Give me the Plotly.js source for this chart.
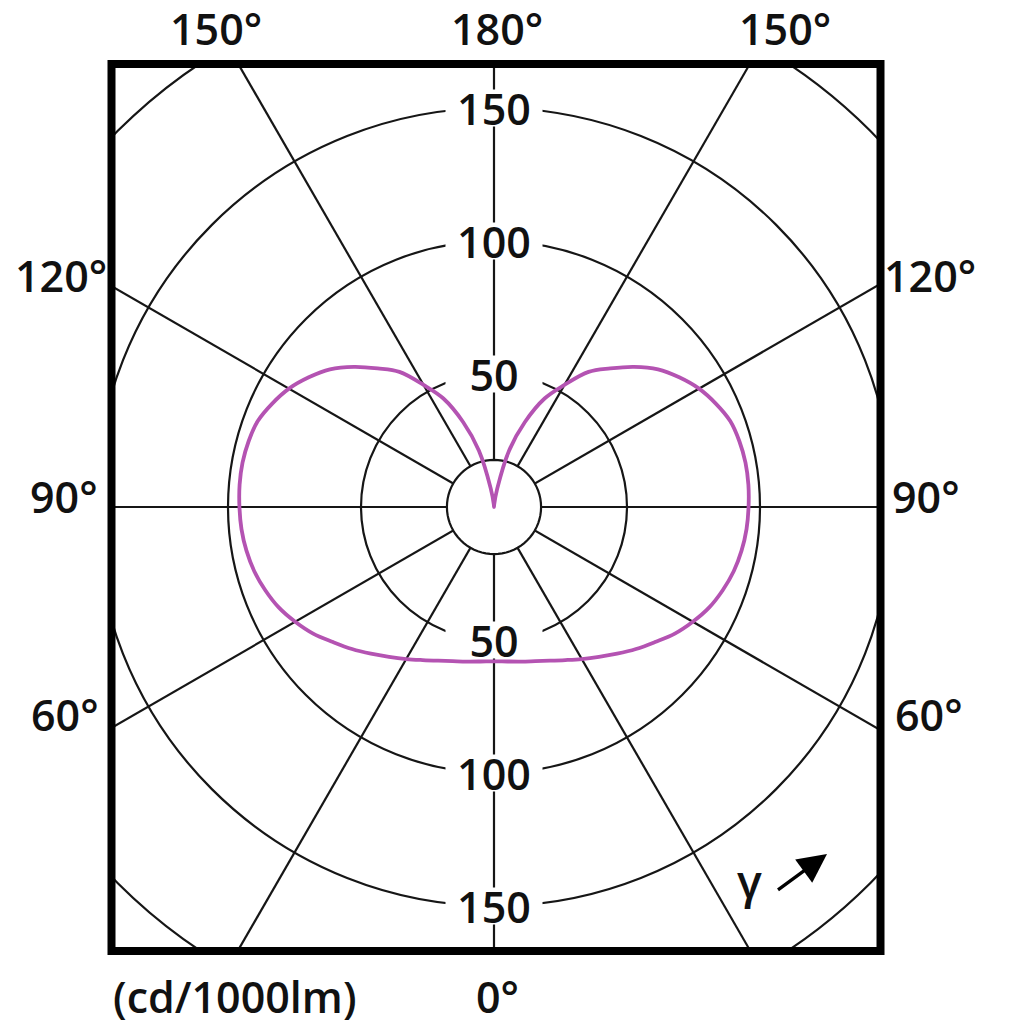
<!DOCTYPE html>
<html>
<head>
<meta charset="utf-8">
<script src="https://cdn.plot.ly/plotly-3.0.1.min.js"></script>
<style>
html,body{margin:0;padding:0;overflow:hidden;width:1024px;height:1024px;background:#ffffff;}
#chart{position:absolute;left:-206px;top:-193px;width:1400px;height:1400px;}
</style>
</head>
<body>
<div id="chart"></div>
<script>
// ---------------- data ----------------
// gamma angle (deg) measured from nadir, and luminous intensity (cd/1000lm)
const gammaDeg = [0,5,10,15,20,25,30,35,40,45,50,55,60,65,70,75,80,85,90,
                  95,100,105,110,115,120,125,130,135,140,145,150,155,160,165,170,175,180];
const intensity = [58,58.3,59,60,61.5,63.5,66,68.8,72,75.5,79,83,86.3,89.3,91.5,93.3,94.5,95.3,95.7,
                   96,96,95.5,94.5,92,89,85,80.5,74.5,68,62,53,45,34,22,7,1,0];
const radialLabelValues = [50,100,150];
const gridCircleValues = [50,100,150,200];
const angleStep = 30;
const topLabels = ['150°','180°','150°'];
const sideLabels = ['120°','90°','60°'];
const bottomLabel = '0°';
const unitLabel = '(cd/1000lm)';
const gammaSymbol = 'γ';

// ---------------- layout constants ----------------
const W = 1400, H = 1400, OFFX = 206, OFFY = 193;   // div offset in the window
const PX_PER_UNIT = 2.66;
const RMAX = (W / 2) / PX_PER_UNIT;
const INNER_R = 17.7;
const px = X => (X + OFFX) / W;
const py = Y => 1 - (Y + OFFY) / H;
const FL = 111.5, FR = 880.5, FT = 64, FB = 951;     // frame centre line (window px)

const lineCol = '#161616';
const curveCol = '#b453b2';
const font = {family: 'Open Sans, Noto Sans, sans-serif', size: 43, color: '#111', weight: 600};

// curve: mirror the C-plane so it is symmetric about the vertical axis
const thetaCurve = gammaDeg.slice().reverse().map(g => -g).concat(gammaDeg.slice(1));
const rCurve = intensity.slice().reverse().concat(intensity.slice(1));

// inner small circle (drawn through the polar scale)
const circTheta = [], circR = [];
for (let a = 0; a <= 360; a += 5) { circTheta.push(a); circR.push(INNER_R); }

const traces = [
  {type: 'scatterpolar', r: circR, theta: circTheta, mode: 'lines', fill: 'toself',
   fillcolor: '#ffffff', line: {color: lineCol, width: 2.2}, hoverinfo: 'skip'},
  {type: 'scatterpolar', r: rCurve, theta: thetaCurve, mode: 'lines',
   line: {color: curveCol, width: 3.8, shape: 'spline', smoothing: 1}, hoverinfo: 'skip'}
];

const shapes = [
  {type:'rect', xref:'paper', yref:'paper', x0:0, x1:px(FL), y0:0, y1:1, fillcolor:'#fff', line:{width:0}, layer:'above'},
  {type:'rect', xref:'paper', yref:'paper', x0:px(FR), x1:1, y0:0, y1:1, fillcolor:'#fff', line:{width:0}, layer:'above'},
  {type:'rect', xref:'paper', yref:'paper', x0:0, x1:1, y0:py(FT), y1:1, fillcolor:'#fff', line:{width:0}, layer:'above'},
  {type:'rect', xref:'paper', yref:'paper', x0:0, x1:1, y0:0, y1:py(FB), fillcolor:'#fff', line:{width:0}, layer:'above'},
  {type:'rect', xref:'paper', yref:'paper', x0:px(FL), x1:px(FR), y0:py(FB), y1:py(FT), line:{color:'#000', width:8}, layer:'above'}
];

const ann = [];
function lab(text, X, Y, extra) {
  ann.push(Object.assign({xref:'paper', yref:'paper', x:px(X), y:py(Y), text:text, showarrow:false,
    xanchor:'center', yanchor:'middle', font:font}, extra || {}));
}
// outer angle labels
lab(topLabels[0], 216, 28); lab(topLabels[1], 497, 28); lab(topLabels[2], 785, 28);
lab(sideLabels[0], 61, 276); lab(sideLabels[1], 64, 496); lab(sideLabels[2], 65, 714);
lab(sideLabels[0], 930, 276); lab(sideLabels[1], 926, 496); lab(sideLabels[2], 929, 714);
lab(bottomLabel, 497, 996);
lab(unitLabel, 235, 996);
lab(gammaSymbol, 749, 880, {font: Object.assign({}, font, {size: 46})});
// gamma direction arrow
ann.push({xref:'paper', yref:'paper', x:px(827), y:py(854), ax:-52, ay:38, text:' ', showarrow:true,
  arrowhead:2, arrowsize:1.75, arrowwidth:3.3, arrowcolor:'#000', standoff:0});
// radial value labels on the vertical axis
radialLabelValues.forEach(v => {
  [1, -1].forEach(sgn => {
    ann.push({xref:'paper', yref:'paper', x:0.5, y:0.5 + sgn * 0.5 * v / RMAX, text:String(v),
      showarrow:false, xanchor:'center', yanchor:'middle', font:font, bgcolor:'#fff',
      width:96, height:36, borderpad:0});
  });
});

const layout = {
  width: W, height: H, autosize: false,
  margin: {l:0, r:0, t:0, b:0, pad:0},
  paper_bgcolor: '#fff', showlegend: false,
  polar: {
    domain: {x:[0,1], y:[0,1]}, bgcolor: '#fff',
    radialaxis: {range:[0, RMAX], tickmode:'array', tickvals: gridCircleValues, showticklabels:false,
      ticks:'', showline:false, gridcolor: lineCol, gridwidth: 2.2},
    angularaxis: {rotation:-90, direction:'counterclockwise', tickmode:'linear', tick0:0, dtick: angleStep,
      showticklabels:false, ticks:'', showline:false, gridcolor: lineCol, gridwidth: 2.2}
  },
  shapes: shapes,
  annotations: ann
};

Plotly.newPlot('chart', traces, layout, {staticPlot: true, displayModeBar: false});
</script>
</body>
</html>
